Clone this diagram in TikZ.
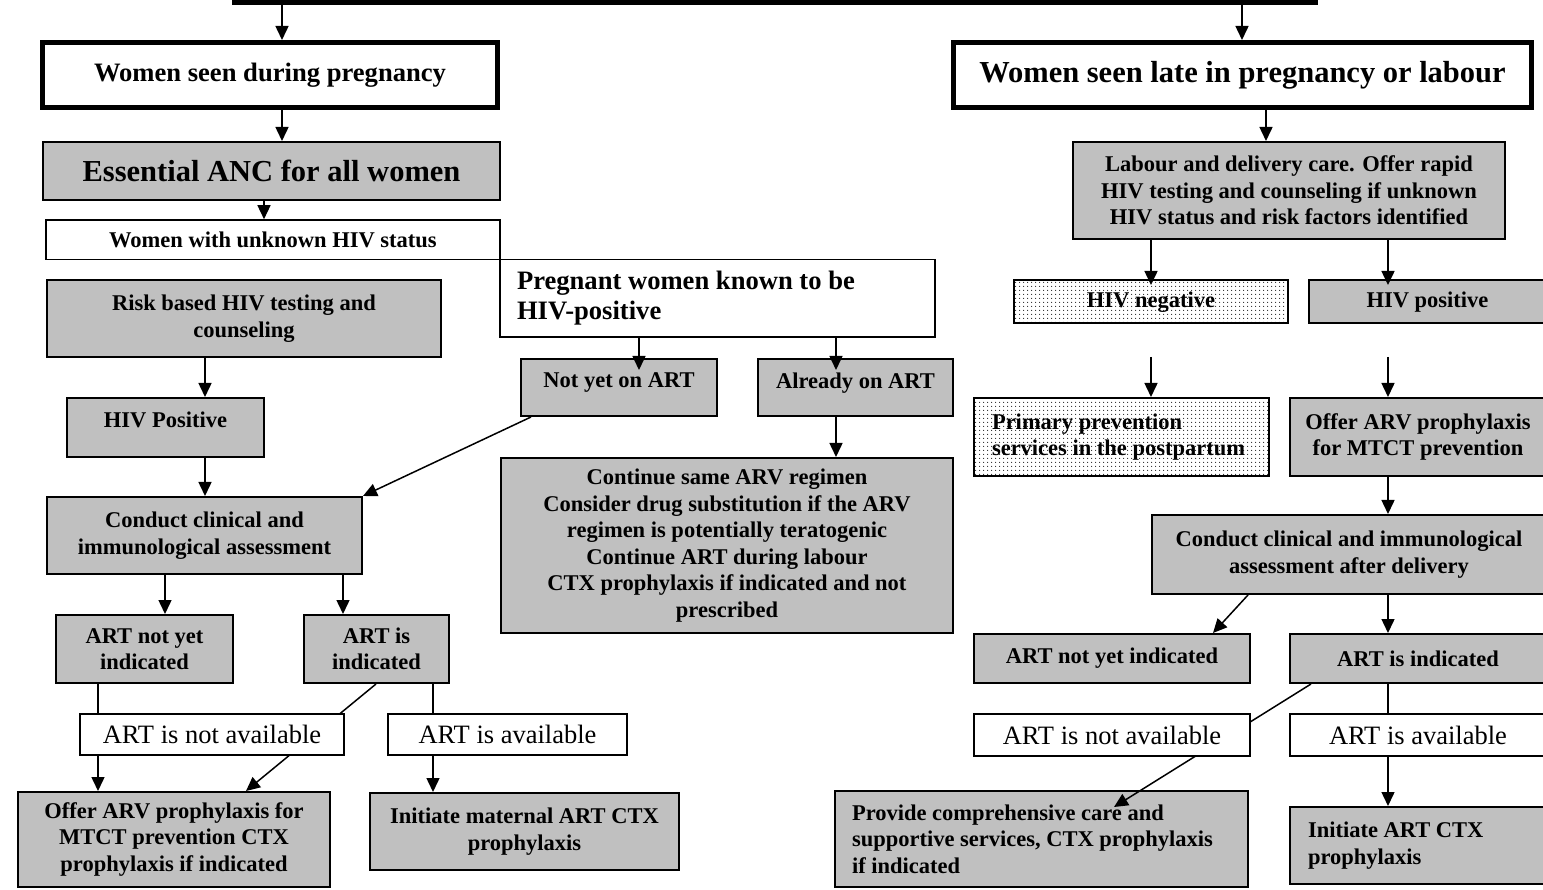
\documentclass[tikz,border=0pt]{standalone}
\usepackage{fontspec}
\setmainfont{Liberation Serif}
\usetikzlibrary{arrows.meta,patterns.meta,calc}
\pgfdeclarelayer{front}
\pgfsetlayers{main,front}
\definecolor{boxgray}{RGB}{192,192,192}
\newcommand\fA{\fontsize{22.5}{26.5}\selectfont\bfseries}
\newcommand\fB{\fontsize{26.6}{30}\selectfont\bfseries}
\newcommand\fC{\fontsize{30.5}{35}\selectfont\bfseries}
\newcommand\fR{\fontsize{26.5}{30}\selectfont}
\newcommand\bx[7][]{\node[#1, minimum width={(#5)-(#3)}, minimum height={(#6)-(#4)}] (#2) at ({((#3)+(#5))/2},{((#4)+(#6))/2}) {#7};}
\tikzset{
  tbox/.style={draw, line width=5pt, fill=white, align=center, inner sep=2pt},
  gbox/.style={draw, line width=2pt, fill=boxgray, font=\fA, align=center, inner sep=2pt},
  wbox/.style={draw, line width=1.6pt, fill=white, font=\fA, align=center, inner sep=2pt},
  dbox/.style={draw, line width=2pt, pattern={Dots[distance=4pt, radius=0.7pt]}, pattern color=black!85, font=\fA, align=center, inner sep=2pt},
  arr/.style={-{Triangle[length=14pt,width=13pt]}, line width=1.5pt}
}
\begin{document}
\begin{tikzpicture}[x=1pt, y=-1pt]
\useasboundingbox (0,0) rectangle (1543,890);
\clip (0,0) rectangle (1543,890);
\fill[white] (0,0) rectangle (1543,890);

% top (cut-off) box
\bx[tbox]{top}{234.5}{-60}{1315.5}{3}{}

% left branch
\bx[tbox,font=\fB]{ws}{42.5}{42.5}{497.5}{107.5}{Women seen during pregnancy}
\bx[gbox,font=\fC]{anc}{43}{142}{500}{200}{Essential ANC for all women}
\bx[wbox]{unk}{46}{220}{500}{259.5}{Women with unknown HIV status}
\bx[gbox]{risk}{47}{280}{441}{357}{Risk based HIV testing and\\counseling}
\bx[gbox,text depth=16pt]{hivp}{67}{398}{264}{457}{HIV Positive}
\bx[gbox]{cca}{47}{497}{362}{574}{Conduct clinical and\\immunological assessment}
\bx[gbox]{anl}{56}{615}{233}{683}{ART not yet\\indicated}
\bx[gbox]{ail}{304}{615}{449}{683}{ART is\\indicated}
\bx[gbox]{ofl}{18}{792}{330}{887}{Offer ARV prophylaxis for\\MTCT prevention CTX\\prophylaxis if indicated}
\bx[gbox]{iml}{370}{793}{679}{870}{Initiate maternal ART CTX\\prophylaxis}

% middle branch
\bx[wbox,font=\fB,align=flush left,inner xsep=17pt,text width=401pt]{pk}{500}{259.5}{935}{337}{Pregnant women known to be\\HIV-positive}
\bx[gbox,text depth=14pt]{nyo}{521}{359}{717}{416}{Not yet on ART}
\bx[gbox,text depth=14pt]{ao}{758}{359}{953}{416}{Already on ART}
\bx[gbox]{cont}{501}{458}{953}{633}{Continue same ARV regimen\\Consider drug substitution if the ARV\\regimen is potentially teratogenic\\Continue ART during labour\\CTX prophylaxis if indicated and not\\prescribed}

% right branch
\bx[tbox,font=\fC]{wl}{953.5}{42.5}{1531.5}{107.5}{Women seen late in pregnancy or labour}
\bx[gbox]{lab}{1073}{142}{1505}{239}{Labour and delivery care. Offer rapid\\HIV testing and counseling if unknown\\HIV status and risk factors identified}
\bx[dbox,text depth=4pt]{hn}{1014}{280}{1288}{323}{HIV negative}
\bx[gbox,text depth=4pt]{hp}{1309}{280}{1546}{323}{HIV positive}
\bx[dbox,align=flush left,inner xsep=18pt,text width=259pt]{pp}{974}{398}{1269}{476}{Primary prevention\\services in the postpartum}
\bx[gbox]{oa}{1290}{398}{1546}{476}{Offer ARV prophylaxis\\for MTCT prevention}
\bx[gbox]{cad}{1152}{515}{1546}{594}{Conduct clinical and immunological\\assessment after delivery}
\bx[gbox]{anr}{974}{634}{1250}{683}{ART not yet indicated}
\bx[gbox]{air}{1290}{634}{1546}{683}{ART is indicated}
\bx[gbox,align=flush left,inner xsep=17pt,text width=379pt]{prov}{835}{791}{1248}{887}{Provide comprehensive care and\\supportive services, CTX prophylaxis\\if indicated}
\bx[gbox,align=flush left,inner xsep=18pt,text width=220pt]{iart}{1290}{807}{1546}{884}{Initiate ART CTX\\prophylaxis}

\begin{pgfonlayer}{front}
\bx[wbox,font=\fR]{nal}{80}{714}{344}{755}{ART is not available}
\bx[wbox,font=\fR]{al}{388}{714}{627}{755}{ART is available}
\bx[wbox,font=\fR]{nar}{974}{714}{1250}{756}{ART is not available}
\bx[wbox,font=\fR]{avr}{1290}{714}{1546}{756}{ART is available}
\end{pgfonlayer}

% x positions of vertical connectors
\coordinate (xa) at (282,0);
\coordinate (xb) at (264,0);
\coordinate (xc) at (205,0);
\coordinate (xd) at (165,0);
\coordinate (xe) at (343,0);
\coordinate (xf) at (98,0);
\coordinate (xg) at (433,0);
\coordinate (xh) at (639,0);
\coordinate (xi) at (836,0);
\coordinate (xj) at (1242,0);
\coordinate (xk) at (1266,0);
\coordinate (xl) at (1151,0);
\coordinate (xm) at (1388,0);
\coordinate (fn) at (1151,357);
\coordinate (fp) at (1388,357);

% connectors
\draw[arr] (top.south -| xa) -- (ws.north -| xa);
\draw[arr] (ws.south -| xa) -- (anc.north -| xa);
\draw[arr] (anc.south -| xb) -- (unk.north -| xb);
\draw[arr] (risk.south -| xc) -- (hivp.north -| xc);
\draw[arr] (hivp.south -| xc) -- (cca.north -| xc);
\draw[arr] (cca.south -| xd) -- (anl.north -| xd);
\draw[arr] (cca.south -| xe) -- (ail.north -| xe);
\draw[arr] (anl.south -| xf) -- (ofl.north -| xf);
\draw[arr] ($(ail.south west)+(73,0)$) -- ($(ofl.north west)+(229,0)$);
\draw[arr] (ail.south -| xg) -- (iml.north -| xg);
\draw[arr] (pk.south -| xh) -- ($(nyo.north -| xh)+(0,12)$);
\draw[arr] (pk.south -| xi) -- ($(ao.north -| xi)+(0,12)$);
\draw[arr] ($(nyo.south west)+(11,0)$) -- (cca.north east);
\draw[arr] (ao.south -| xi) -- (cont.north -| xi);
\draw[arr] (top.south -| xj) -- (wl.north -| xj);
\draw[arr] (wl.south -| xk) -- (lab.north -| xk);
\draw[arr] (lab.south -| xl) -- ($(hn.north -| xl)+(0,6)$);
\draw[arr] (lab.south -| xm) -- ($(hp.north -| xm)+(0,6)$);
\draw[arr] (fn) -- (pp.north -| fn);
\draw[arr] (fp) -- (oa.north -| fp);
\draw[arr] (oa.south -| xm) -- (cad.north -| xm);
\draw[arr] ($(cad.south west)+(97,0)$) -- ($(anr.north east)+(-38,0)$);
\draw[arr] (cad.south -| xm) -- (air.north -| xm);
\draw[arr] ($(air.south west)+(22,0)$) -- ($(prov.north west)+(280,17)$);
\draw[arr] (air.south -| xm) -- (iart.north -| xm);
\end{tikzpicture}
\end{document}
